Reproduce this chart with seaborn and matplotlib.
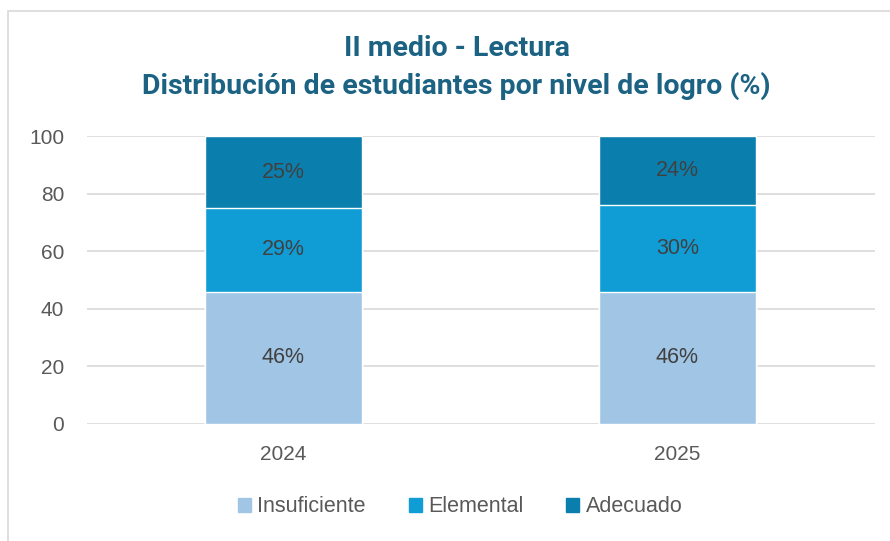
import matplotlib.pyplot as plt
import matplotlib.patches as mpatches
import numpy as np
import pandas as pd
import seaborn as sns

years = ["2024", "2025"]
levels = ["Insuficiente", "Elemental", "Adecuado"]
insuficiente = [46, 46]
elemental = [29, 30]
adecuado = [25, 24]

colors = {"Insuficiente": "#A1C6E5", "Elemental": "#109DD6", "Adecuado": "#0A7FAD"}

sns.set_style("white")
plt.rcParams["font.family"] = ["Liberation Sans", "DejaVu Sans"]

df = pd.DataFrame({"year": years, "Insuficiente": insuficiente,
                   "Elemental": elemental, "Adecuado": adecuado})
# cumulative tops so stacked bars can be drawn back-to-front
cum = df[levels].cumsum(axis=1)

fig = plt.figure(figsize=(8.9, 5.41), dpi=100)
ax = fig.add_axes([86.5 / 890, 0.2163, 788 / 890, 0.5323])

# outer chart border (light grey)
fig.patches.append(mpatches.Rectangle((8 / 890, -0.1), 1.2, 1 - 11 / 541 + 0.1,
                                      transform=fig.transFigure, fill=False,
                                      edgecolor="#D9D9D9", linewidth=1.2, zorder=0))

for lvl in reversed(levels):
    sns.barplot(x=df["year"], y=cum[lvl], color=colors[lvl], width=0.4,
                saturation=1, ax=ax, zorder=2)

# value labels at segment midpoints
for i in range(len(years)):
    prev = 0
    for lvl in levels:
        v = df.loc[i, lvl]
        ax.text(i, prev + v / 2, f"{v}%", ha="center", va="center",
                fontsize=15.5, color="#404040", zorder=3)
        prev += v

ax.set_ylim(0, 100)
ax.set_xlim(-0.5, 1.5)
ax.set_yticks(np.arange(0, 101, 20))
ax.yaxis.grid(True, color="#D9D9D9", linewidth=1.2, zorder=0)
ax.set_axisbelow(True)
for s in ax.spines.values():
    s.set_visible(False)
ax.tick_params(axis="both", length=0, labelsize=15, colors="#595959")
ax.tick_params(axis="y", pad=16)
ax.tick_params(axis="x", pad=15)
ax.set_xlabel("")
ax.set_ylabel("")

fig.text(0.513, 0.911, "II medio - Lectura", ha="center", va="center",
         fontsize=20.5, fontweight="bold", color="#1B6283", family=["Roboto", "DejaVu Sans"])
fig.text(0.513, 0.842, "Distribución de estudiantes por nivel de logro (%)", ha="center",
         va="center", fontsize=20.5, fontweight="bold", color="#1B6283",
         family=["Roboto", "DejaVu Sans"])

handles = [mpatches.Patch(color=colors[l], label=l) for l in levels]
fig.legend(handles=handles, loc="center", bbox_to_anchor=(0.517, 0.063), ncol=3,
           frameon=False, fontsize=15.5, labelcolor="#595959", handlelength=0.6,
           handleheight=0.6, handletextpad=0.3, columnspacing=2.0)

fig.savefig("out.png", dpi=100, facecolor="white")
